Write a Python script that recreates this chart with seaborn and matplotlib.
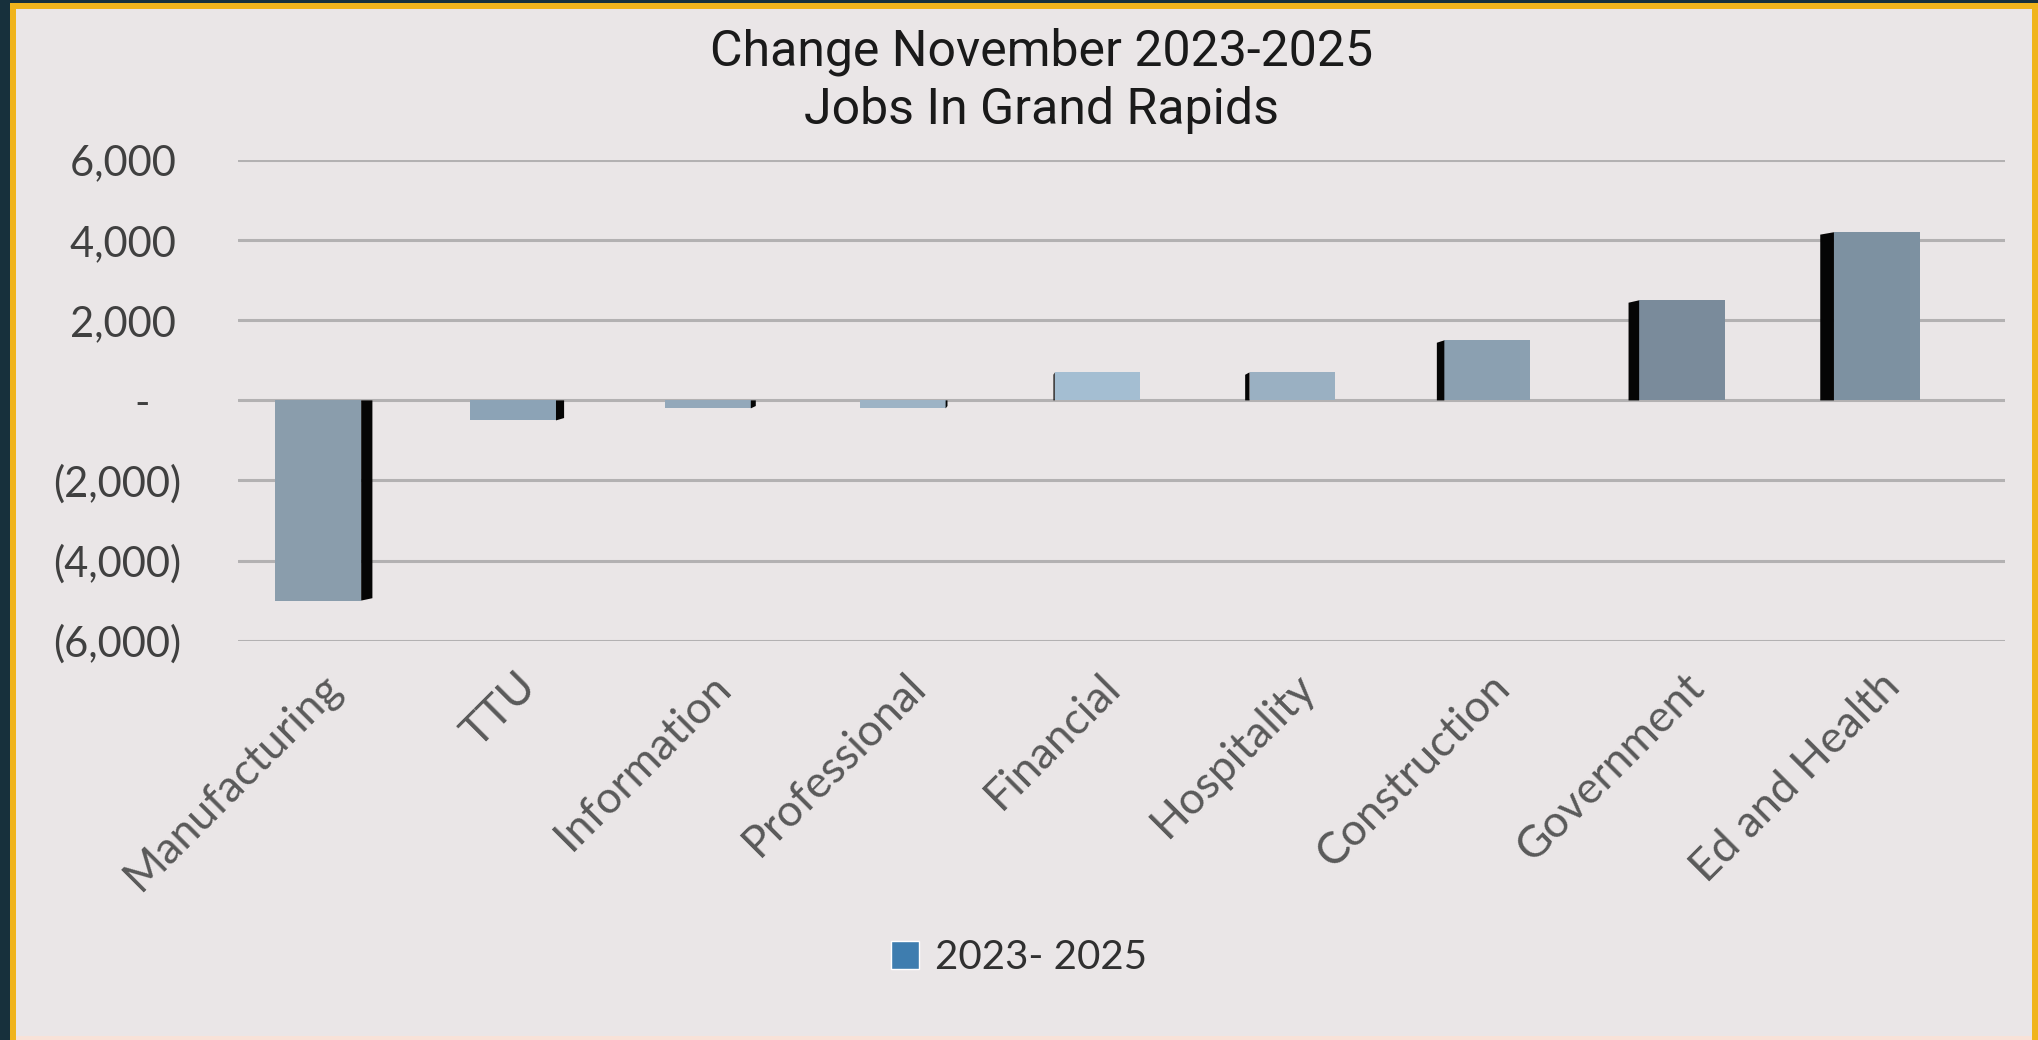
import matplotlib
matplotlib.use("Agg")
import matplotlib.pyplot as plt
import matplotlib.transforms as mtransforms
from matplotlib.patches import Patch, Polygon, Rectangle
import seaborn as sns
import pandas as pd

# data
sectors = ["Manufacturing", "TTU", "Information", "Professional", "Financial",
           "Hospitality", "Construction", "Government", "Ed and Health"]
job_change = [-5000, -500, -200, -200, 700, 700, 1500, 2500, 4200]
bar_colors = ["#8A9DAC", "#8CA3B6", "#93A8BA", "#9DB3C5", "#A4BED2",
              "#9AB0C2", "#8BA0B1", "#7A8B9B", "#7D91A1"]
y_ticks = [-6000, -4000, -2000, 0, 2000, 4000, 6000]
# accounting style: positives and the dash leave room for the ")"
y_tick_labels = ["(6,000)", "(4,000)", "(2,000)", "-\u2002\u2009\u2009",
                 "2,000\u2009", "4,000\u2009", "6,000\u2009"]
series_name = "2023- 2025"
legend_color = "#3E7DAF"

df = pd.DataFrame({"sector": sectors, "change": job_change})

sns.set_style("white")
plt.rcParams["font.family"] = ["Lato", "DejaVu Sans"]

bg = "#EAE6E7"
fig = plt.figure(figsize=(20.38, 10.40), dpi=100, facecolor=bg)
ax = fig.add_axes([0.117, 0.384, 0.867, 0.462])
ax.set_facecolor(bg)

sns.barplot(data=df, x="sector", y="change", hue="sector", palette=bar_colors,
            width=0.44, legend=False, ax=ax, zorder=3, saturation=1,
            linewidth=0, edgecolor="none")

# fake 3D side walls, width grows with distance from the middle
for i, p in enumerate(ax.patches):
    x0 = p.get_x()
    w = p.get_width()
    h = p.get_height() + p.get_y()
    side = (i - 3.6) * 0.016
    if abs(side) < 0.004:
        continue
    dy = 60 if h > 0 else -60
    xs = x0 if side > 0 else x0 + w
    pts = [(xs, 0), (xs, h), (xs - side, h - dy), (xs - side, 0)]
    ax.add_patch(Polygon(pts, closed=True, facecolor="#050505",
                         edgecolor="none", zorder=3))

ax.set_ylim(-6000, 6000)
ax.set_xlim(-0.41, 8.66)
ax.set_yticks(y_ticks)
ax.set_yticklabels(y_tick_labels)
ax.grid(axis="y", color="#B3B1B2", linewidth=2.2, zorder=0)
for s in ax.spines.values():
    s.set_visible(False)
ax.set_xlabel("")
ax.set_ylabel("")
ax.tick_params(axis="y", length=0, pad=41, labelsize=30, labelcolor="#404040")
ax.tick_params(axis="x", length=0, pad=18, labelsize=32, labelcolor="#595959")

offset = mtransforms.ScaledTranslation(0.02, 0, fig.dpi_scale_trans)
for lab in ax.get_xticklabels():
    lab.set_rotation(45)
    lab.set_ha("right")
    lab.set_va("top")
    lab.set_rotation_mode("anchor")
    lab.set_transform(lab.get_transform() + offset)

fig.text(0.511, 0.950, "Change November 2023-2025", ha="center", va="center",
         fontsize=36, family="Roboto", color="#1A1A1A")
fig.text(0.511, 0.894, "Jobs In Grand Rapids", ha="center", va="center",
         fontsize=36, family="Roboto", color="#1A1A1A")

fig.legend(handles=[Patch(facecolor=legend_color, label=series_name)],
           loc="center", bbox_to_anchor=(0.5, 0.079), frameon=False,
           fontsize=29, handlelength=0.7, handleheight=0.7,
           handletextpad=0.4, labelcolor="#303030")

# frame around the slide
fig.patches.append(Rectangle((0, 0), 0.005, 1, transform=fig.transFigure,
                             facecolor="#17303C", edgecolor="none", zorder=5))
fig.patches.append(Rectangle((0.005, 0), 0.003, 1, transform=fig.transFigure,
                             facecolor="#F0B41C", edgecolor="none", zorder=5))
fig.patches.append(Rectangle((0, 0.997), 1, 0.003, transform=fig.transFigure,
                             facecolor="#17303C", edgecolor="none", zorder=5))
fig.patches.append(Rectangle((0.005, 0.991), 0.995, 0.006, transform=fig.transFigure,
                             facecolor="#F0B41C", edgecolor="none", zorder=5))
fig.patches.append(Rectangle((0.997, 0), 0.003, 0.997, transform=fig.transFigure,
                             facecolor="#F0B41C", edgecolor="none", zorder=5))
fig.patches.append(Rectangle((0.008, 0), 0.989, 0.004, transform=fig.transFigure,
                             facecolor="#F8E2D8", edgecolor="none", zorder=5))

fig.savefig("out.png", dpi=100, facecolor=bg)
